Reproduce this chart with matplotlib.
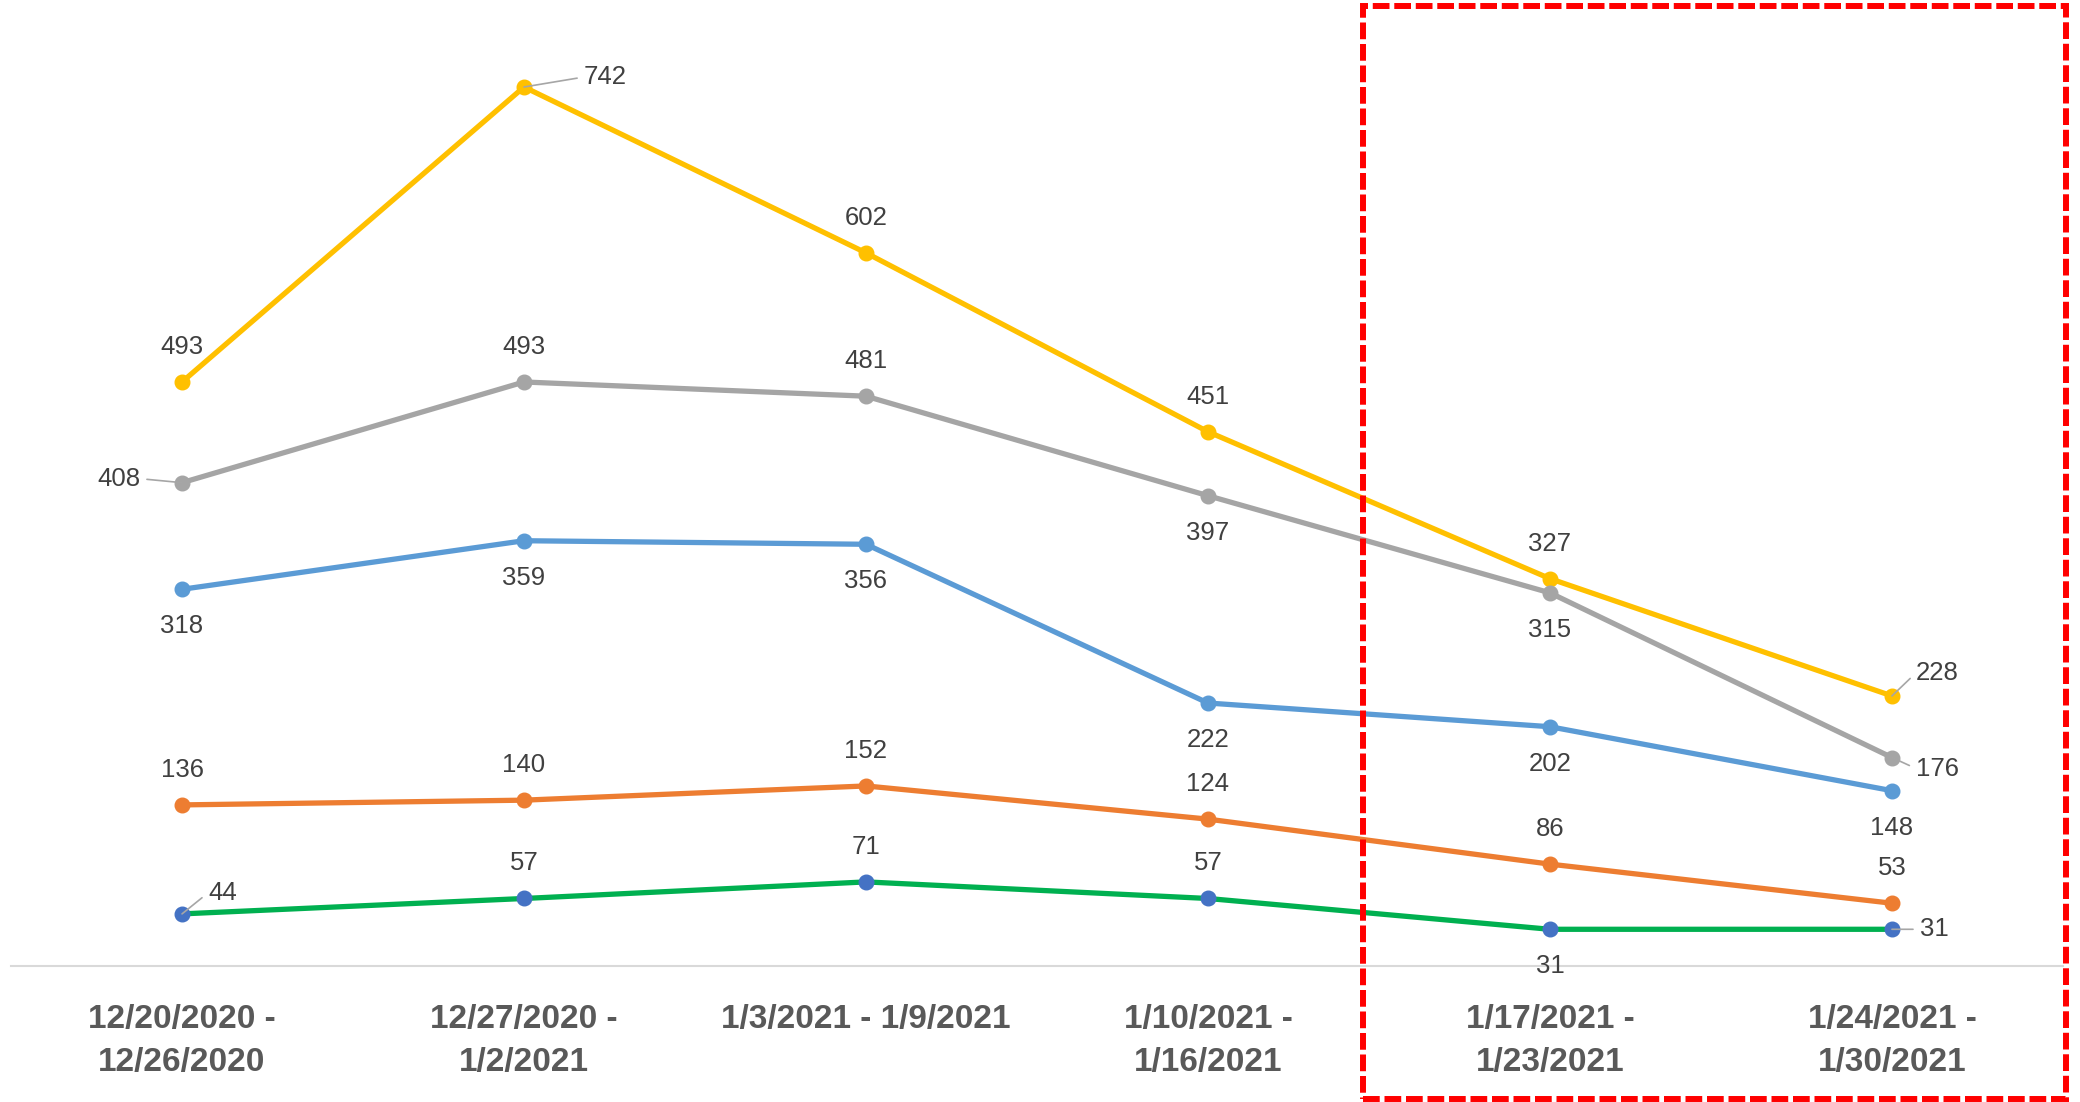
import matplotlib.pyplot as plt
from matplotlib.patches import Rectangle

plt.rcParams['font.family'] = ['Liberation Sans', 'DejaVu Sans']

# Data
weeks = ["12/20/2020 -\n12/26/2020", "12/27/2020 -\n1/2/2021", "1/3/2021 - 1/9/2021",
         "1/10/2021 -\n1/16/2021", "1/17/2021 -\n1/23/2021", "1/24/2021 -\n1/30/2021"]
yellow_vals = [493, 742, 602, 451, 327, 228]
gray_vals = [408, 493, 481, 397, 315, 176]
blue_vals = [318, 359, 356, 222, 202, 148]
orange_vals = [136, 140, 152, 124, 86, 53]
green_vals = [44, 57, 71, 57, 31, 31]

# label placement per point: 'a' above, 'b' below, or (dx, dy, ha) pixel offset with leader
LEAD_COLOR = "#A6A6A6"
series = [
    (yellow_vals, "#FFC000", "#FFC000", ['a', (60, 10, 'left'), 'a', 'a', 'a', (24, 23, 'left')]),
    (gray_vals, "#A5A5A5", "#A5A5A5", [(-42, 4, 'right'), 'a', 'a', 'b', 'b', (24, -11, 'left')]),
    (blue_vals, "#5B9BD5", "#5B9BD5", ['b', 'b', 'b', 'b', 'b', 'b']),
    (orange_vals, "#ED7D31", "#ED7D31", ['a', 'a', 'a', 'a', 'a', 'a']),
    (green_vals, "#00B050", "#4472C4", [(26, 21, 'left'), 'a', 'a', 'a', 'b', (28, 0, 'left')]),
]

fig = plt.figure(figsize=(20.8, 11.02), dpi=100)
ax = fig.add_axes([0.0053, 0.1234, 0.9865, 0.86])
x = list(range(len(weeks)))

for vals, lc, mc, places in series:
    ax.plot(x, vals, color=lc, lw=3.8, marker='o', markersize=10.5,
            markerfacecolor=mc, markeredgecolor=mc, solid_capstyle='round', zorder=3)
    for xi, v, p in zip(x, vals, places):
        if p == 'a':
            ax.annotate(str(v), (xi, v), xytext=(0, 35), textcoords='offset pixels',
                        ha='center', va='center', fontsize=18.5, color='#404040')
        elif p == 'b':
            ax.annotate(str(v), (xi, v), xytext=(0, -37), textcoords='offset pixels',
                        ha='center', va='center', fontsize=18.5, color='#404040')
        else:
            dx, dy, ha = p
            rel = (0, 0.5) if ha == 'left' else (1, 0.5)
            ax.annotate(str(v), (xi, v), xytext=(dx, dy), textcoords='offset pixels',
                        ha=ha, va='center', fontsize=18.5, color='#404040',
                        arrowprops=dict(arrowstyle='-', color=LEAD_COLOR, lw=1.2,
                                        shrinkA=3, shrinkB=0, relpos=rel))

ax.set_xlim(-0.5, len(weeks) - 0.5)
ax.set_ylim(0, 800)
ax.set_xticks(x)
ax.set_xticklabels(weeks, fontsize=24, fontweight='bold', color='#595959', linespacing=1.5)
ax.tick_params(axis='x', length=0, pad=27)
ax.set_yticks([])
for s in ['top', 'left', 'right']:
    ax.spines[s].set_visible(False)
ax.spines['bottom'].set_color('#D9D9D9')
ax.spines['bottom'].set_linewidth(1.5)

# red dashed highlight box
W, H = 2080, 1102
box = Rectangle((1363 / W, 1 - 1099 / H), (2066 - 1363) / W, (1099 - 6) / H,
                transform=fig.transFigure, fill=False, edgecolor='#FF0000',
                lw=4.3, linestyle=(0, (2.8, 0.8)), zorder=10)
fig.patches.append(box)

fig.savefig("out.png", dpi=100, facecolor='white')
plt.close()
